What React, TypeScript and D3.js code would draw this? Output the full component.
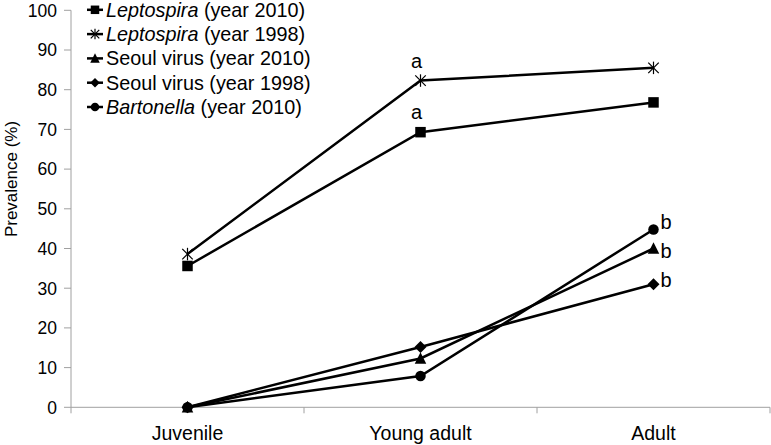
import React from "react";
import * as d3 from "d3";

const categories = ["Juvenile", "Young adult", "Adult"];
const yTicks = [0, 10, 20, 30, 40, 50, 60, 70, 80, 90, 100];

const leptospira2010 = [35.6, 69.3, 76.8];
const leptospira1998 = [38.6, 82.3, 85.5];
const seoul2010 = [0, 12.3, 40.0];
const seoul1998 = [0, 15.2, 31.0];
const bartonella2010 = [0, 7.9, 44.8];

const seriesNames = ["Leptospira", "Leptospira", "Seoul virus", "Seoul virus", "Bartonella"];
const seriesYears = ["(year 2010)", "(year 1998)", "(year 2010)", "(year 1998)", "(year 2010)"];
const seriesItalic = [true, true, false, false, true];
const seriesMarkers = ["square", "star", "triangle", "diamond", "circle"];

// significance letters: [seriesIndex, categoryIndex, letter]
const annotations: [number, number, string][] = [
  [1, 1, "a"],
  [0, 1, "a"],
  [4, 2, "b"],
  [2, 2, "b"],
  [3, 2, "b"],
];

const seriesValues = [leptospira2010, leptospira1998, seoul2010, seoul1998, bartonella2010];

const W = 771;
const H = 445;
const FONT = "'Liberation Sans', Arial, sans-serif";

function Marker({ type, x, y, s }: { type: string; x: number; y: number; s: number }) {
  const h = s / 2;
  if (type === "square") return <rect x={x - h} y={y - h} width={s} height={s} fill="#000" />;
  if (type === "circle") return <circle cx={x} cy={y} r={h} fill="#000" />;
  if (type === "triangle")
    return <path d={`M${x},${y - h - 1}L${x + h + 0.5},${y + h}L${x - h - 0.5},${y + h}Z`} fill="#000" />;
  if (type === "diamond")
    return <path d={`M${x},${y - h - 0.5}L${x + h + 0.5},${y}L${x},${y + h + 0.5}L${x - h - 0.5},${y}Z`} fill="#000" />;
  // star: X with vertical line
  return (
    <g stroke="#000" strokeWidth={1.2}>
      <line x1={x - h} y1={y - h} x2={x + h} y2={y + h} />
      <line x1={x - h} y1={y + h} x2={x + h} y2={y - h} />
      <line x1={x} y1={y - h - 1} x2={x} y2={y + h + 1} />
    </g>
  );
}

export default function App() {
  const left = 71;
  const right = 770;
  const top = 10.3;
  const bottom = 407.3;

  const x = d3.scaleBand<string>().domain(categories).range([left, right]).padding(0);
  const y = d3.scaleLinear().domain([0, 100]).range([bottom, top]);
  const cx = (c: string) => (x(c) as number) + x.bandwidth() / 2;

  const line = d3
    .line<number>()
    .x((_, i) => cx(categories[i]))
    .y((v) => y(v));

  const boundaries = [...categories.map((c) => x(c) as number), right];

  return (
    <svg
      width={W}
      height={H}
      style={{ position: "absolute", left: 0, top: 0, background: "#fff" }}
      fontFamily={FONT}
    >
      <rect width={W} height={H} fill="#fff" />
      {/* axes */}
      <line x1={left} y1={top} x2={left} y2={bottom} stroke="#a0a0a0" strokeWidth={1} />
      <line x1={left} y1={bottom} x2={right} y2={bottom} stroke="#a0a0a0" strokeWidth={1} />
      {yTicks.map((t) => (
        <g key={t}>
          <line x1={left - 7} x2={left} y1={y(t)} y2={y(t)} stroke="#a0a0a0" />
          <text x={57} y={y(t) + 6.3} textAnchor="end" fontSize={17.5} fill="#000">
            {t}
          </text>
        </g>
      ))}
      {boundaries.map((b, i) => (
        <line key={i} x1={b} x2={b} y1={bottom} y2={bottom + 6} stroke="#a0a0a0" />
      ))}
      {categories.map((c) => (
        <text key={c} x={cx(c)} y={440} textAnchor="middle" fontSize={19.5} fill="#000">
          {c}
        </text>
      ))}
      <text
        transform={`translate(17,${179}) rotate(-90)`}
        textAnchor="middle"
        fontSize={17}
        fill="#000"
      >
        Prevalence (%)
      </text>

      {/* series */}
      {seriesValues.map((vals, si) => (
        <g key={si}>
          <path d={line(vals) || ""} fill="none" stroke="#000" strokeWidth={2.5} />
          {vals.map((v, i) => (
            <Marker key={i} type={seriesMarkers[si]} x={cx(categories[i])} y={y(v)} s={seriesMarkers[si] === "diamond" ? 11 : 10.5} />
          ))}
        </g>
      ))}

      {/* significance letters */}
      {annotations.map(([si, ci, letter], k) => {
        const px = cx(categories[ci]);
        const py = y(seriesValues[si][ci]);
        if (letter === "a")
          return (
            <text key={k} x={px - 4} y={py - 13} textAnchor="middle" fontSize={20} fill="#000">
              {letter}
            </text>
          );
        const dy = seriesMarkers[si] === "triangle" ? 9 : seriesMarkers[si] === "diamond" ? 2.5 : 0;
        return (
          <text key={k} x={px + 7} y={py + dy} textAnchor="start" fontSize={20} fill="#000">
            {letter}
          </text>
        );
      })}

      {/* legend */}
      {seriesValues.map((_, si) => {
        const ry = 9.8 + si * 24.3;
        return (
          <g key={si}>
            <rect x={85} y={ry - 11} width={225} height={22} fill="#fff" />
            <line x1={87} x2={103} y1={ry} y2={ry} stroke="#000" strokeWidth={2.5} />
            <Marker type={seriesMarkers[si]} x={95} y={ry} s={8.5} />
            <text x={106} y={ry + 7} fontSize={19.8} fill="#000">
              <tspan fontStyle={seriesItalic[si] ? "italic" : "normal"}>{seriesNames[si]}</tspan>
              <tspan> {seriesYears[si]}</tspan>
            </text>
          </g>
        );
      })}
    </svg>
  );
}
